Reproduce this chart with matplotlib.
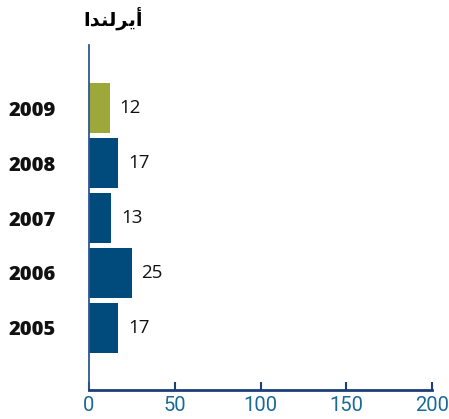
import matplotlib
matplotlib.use("Agg")
import matplotlib.pyplot as plt

years = ["2005", "2006", "2007", "2008", "2009"]
values = [17, 25, 13, 17, 12]
highlight_year = "2009"
x_ticks = [0, 50, 100, 150, 200]
title = "\uFE8D\uFEAA\uFEE8\uFEDF\uFEAE\uFEF3\uFE83"  # أيرلندا (shaped, visual order)

blue = "#004b7c"
olive = "#9da83a"
axis_col = "#1c3f78"
tick_col = "#1a6a96"

fig = plt.figure(figsize=(4.49, 4.19), dpi=100)
ax = fig.add_axes([89/449, 1-390/419, (432-89)/449, (390-45)/419])

colors = [olive if y == highlight_year else blue for y in years]
pos = list(range(len(years)))
ax.barh(pos, values, height=0.9, color=colors, zorder=2)
for p, v in zip(pos, values):
    ax.annotate(str(v), (v, p), xytext=(7, 0), textcoords="offset points",
                va="center", ha="left", fontsize=13.5, family="Open Sans", color="#111111")

ax.set_xlim(0, 200)
ax.set_ylim(-1.13, 5.15)
ax.set_xticks(x_ticks)
ax.set_xticklabels([str(t) for t in x_ticks], family="Roboto",
                   fontsize=14.5, color=tick_col)
ax.set_yticks(pos)
ax.set_yticklabels(years, family="Open Sans", fontweight="heavy", fontsize=14.5, color="#111111")
ax.tick_params(axis="y", length=0, pad=24)
ax.tick_params(axis="x", direction="in", length=6, width=1.5, color=axis_col, pad=4)

for s in ["top", "right"]:
    ax.spines[s].set_visible(False)
ax.spines["left"].set_color("#2f5596")
ax.spines["left"].set_linewidth(1.3)
ax.spines["bottom"].set_color(axis_col)
ax.spines["bottom"].set_linewidth(2)

fig.text(113/449, 1-18/419, title, ha="center", va="center", fontsize=14,
         fontweight="bold", family="DejaVu Sans")

fig.savefig("out.png", dpi=100)
